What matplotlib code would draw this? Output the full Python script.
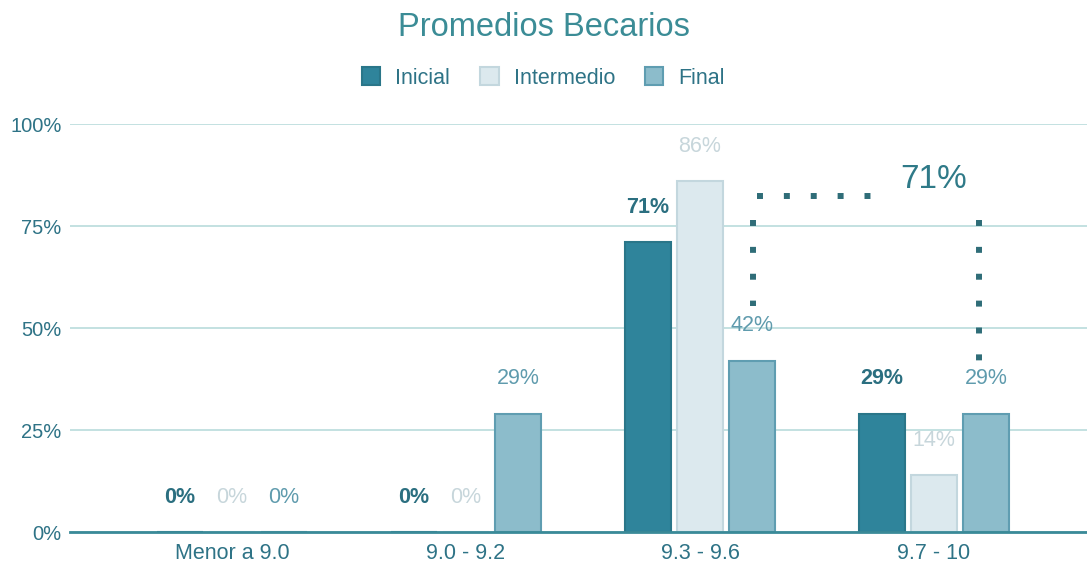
import numpy as np
import matplotlib
matplotlib.use('Agg')
import matplotlib.pyplot as plt
from matplotlib.patches import Patch

plt.rcParams['font.family'] = ['Liberation Sans', 'DejaVu Sans']

# datos
categorias = ['Menor a 9.0', '9.0 - 9.2', '9.3 - 9.6', '9.7 - 10']
inicial = [0, 0, 71, 29]
intermedio = [0, 0, 86, 14]
final = [0, 29, 42, 29]
series_nombres = ['Inicial', 'Intermedio', 'Final']
yticks = [0, 25, 50, 75, 100]
resaltado = '71%'

# estilos
caras = ['#2f849b', '#dce9ee', '#8cbccb']
bordes = ['#2a7689', '#c3d7de', '#5f9db1']
col_etq = ['#2b6f80', '#c7d6db', '#5f9bad']
col_ejes = '#2e7386'
col_grid = '#b9dcdc'

W, H = 1087, 567
fig = plt.figure(figsize=(W / 100, H / 100), dpi=100, facecolor='white')
ax = fig.add_axes([70 / W, (H - 532) / H, (W - 70) / W, (532 - 124) / H])

x = np.arange(len(categorias))
ancho = 0.2
paso = 0.222
datos = [inicial, intermedio, final]

for k, serie in enumerate(datos):
    pos = x + (k - 1) * paso
    ax.bar(pos, serie, width=ancho, color=caras[k], edgecolor=bordes[k],
           linewidth=1.5, zorder=3)
    for xi, v in zip(pos, serie):
        ax.annotate(f'{v}%', (xi, v), xytext=(0, 25), textcoords='offset points',
                    ha='center', va='center', fontsize=15.5, color=col_etq[k],
                    fontweight='bold' if k == 0 else 'normal', zorder=4)

ax.set_xlim((70 - 232) / 234, (W - 232) / 234)
ax.set_ylim(0, 100)
ax.set_yticks(yticks)
ax.set_yticklabels([f'{t}%' for t in yticks], fontsize=14.5, color=col_ejes)
ax.set_xticks(x)
ax.set_xticklabels(categorias, fontsize=15.5, color=col_ejes)
ax.tick_params(axis='both', length=0)
ax.tick_params(axis='y', pad=6)
ax.tick_params(axis='x', pad=8)
ax.grid(axis='y', color=col_grid, linewidth=1.2, zorder=0)
for s in ['top', 'right', 'left']:
    ax.spines[s].set_visible(False)
ax.spines['bottom'].set_color('#3a8a98')
ax.spines['bottom'].set_linewidth(2)
ax.spines['bottom'].set_zorder(5)

# anotación punteada
punteo = dict(color='#2f6d78', lw=4.3, ls=(0, (1, 3.5)), solid_capstyle='butt',
              dash_capstyle='butt', clip_on=False, zorder=6)
ax.plot([2.245, 2.75], [82.4, 82.4], **punteo)
ax.plot([2.225, 2.225], [76.5, 55.5], **punteo)
ax.plot([3.192, 3.192], [76.5, 41.5], **punteo)
ax.text(3.0, 86.5, resaltado, fontsize=24, color='#2f7a88', ha='center', va='center')

# título y leyenda
fig.text(0.5, 1 - 27 / H, 'Promedios Becarios', ha='center', va='center',
         fontsize=23.5, color='#3b8c96')
handles = [Patch(facecolor=caras[k], edgecolor=bordes[k], linewidth=1.5)
           for k in range(3)]
fig.legend(handles, series_nombres, loc='center', bbox_to_anchor=(0.5, 1 - 78 / H),
           ncol=3, frameon=False, fontsize=15.5, handlelength=0.85, handleheight=0.85,
           columnspacing=1.4, handletextpad=0.7, labelcolor=col_ejes)

fig.savefig('out.png', dpi=100, facecolor='white')
